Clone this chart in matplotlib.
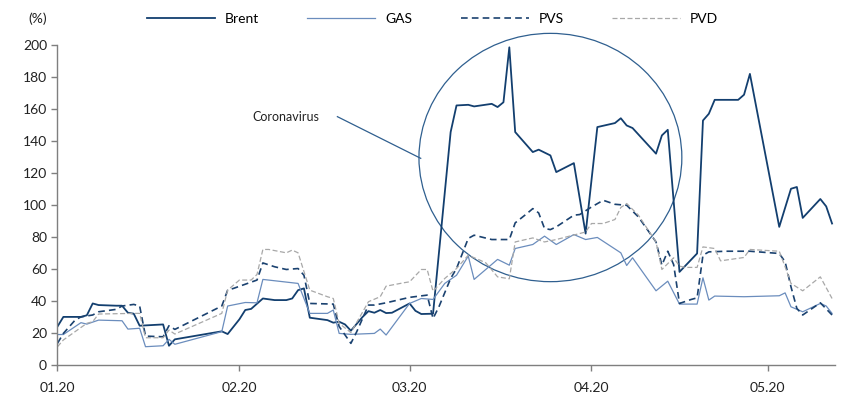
import numpy as np
import matplotlib
matplotlib.use("Agg")
import matplotlib.pyplot as plt
import matplotlib.dates as mdates
from matplotlib.patches import Ellipse

plt.rcParams['font.family'] = ['Lato', 'DejaVu Sans']

# days counted from 1 Jan 2020, volatility in %
brent_day = [0, 1, 4, 5, 6, 7, 10, 11, 12, 13, 14, 18, 19, 20, 28, 29, 31, 32, 33, 35,
             37, 39, 40, 41, 42, 43, 46, 47, 48, 49, 50, 52, 53, 54, 55, 56, 57, 60, 61, 62,
             64, 67, 68, 70, 71, 74, 75, 76, 77, 78, 81, 82, 84, 85, 88, 90, 92, 95, 96, 97,
             98, 102, 103, 104, 106, 109, 110, 111, 112, 116, 117, 118, 123, 125, 126, 127,
             130, 131, 132]
brent = [24, 30, 30, 31, 38.4, 37.4, 37, 37, 32.6, 32, 24.5, 25.3, 12, 16, 21, 19.3, 28.5, 34.3, 35, 41.5,
         40.5, 40.5, 41.5, 46.7, 47.8, 29.5, 28, 26.4, 27, 25.3, 21.4, 30, 33.6, 32.6, 34.3, 32.4, 32.6, 38.4, 33.8, 31.8,
         32, 145.4, 162, 162.4, 161.4, 163, 161, 164, 198.3, 145.4, 132.9, 134.4, 130.8, 120.4, 126, 82, 148.5, 151, 154, 149.5,
         147.9, 131.9, 143.3, 146.8, 58.1, 69.6, 152.6, 156.8, 165.5, 165.5, 168.7, 181.7, 86.2, 110, 111.1, 91.8,
         103.6, 99, 88.3]

gas_day = [0, 1, 4, 5, 7, 11, 12, 14, 15, 18, 19, 20, 28, 29, 32, 34, 35, 41, 43, 46,
           47, 48, 50, 54, 55, 56, 60, 62, 64, 66, 68, 70, 71, 75, 77, 78, 81, 83, 85, 88,
           90, 92, 96, 97, 98, 102, 104, 106, 109, 110, 111, 112, 117, 123, 124, 125, 127, 130, 131, 132]
gas = [19, 19, 26.4, 25.5, 28, 27.6, 22.4, 22.9, 11.4, 12, 16, 12.9, 20.8, 36.8, 39, 38.8, 53.4, 50.9, 32.2, 32.2,
       34.3, 19.7, 19.1, 19.7, 22.4, 18.7, 38.4, 41.5, 40.9, 50.9, 56, 68, 53.4, 65.9, 62.3, 72.7, 75.2, 80.4, 75.2, 81.4,
       78.3, 79.6, 70, 62.1, 66.9, 46.3, 52.3, 38, 38, 54.4, 40.5, 43, 42.6, 43.2, 45, 36.3, 33.2, 38.4, 36.8, 32.2]

pvs_day = [0, 1, 3, 4, 6, 7, 10, 11, 13, 14, 15, 18, 19, 20, 28, 29, 30, 34, 35, 37,
           39, 41, 42, 43, 47, 48, 50, 51, 53, 54, 56, 60, 63, 64, 65, 67, 68, 70, 71, 74,
           77, 78, 80, 81, 82, 83, 84, 85, 88, 89, 91, 93, 95, 97, 99, 102, 103, 104, 105, 106,
           108, 109, 110, 111, 114, 118, 123, 124, 125, 126, 127, 130, 132]
pvs = [13.5, 19.7, 28, 30, 31.2, 33.2, 34.7, 36.8, 37.8, 36.8, 18, 17.6, 24.5, 22.2, 36.8, 46.7, 47.8, 53, 63.7, 61.3,
       59.6, 60.2, 56, 38.4, 38, 24, 13.5, 20.8, 37.4, 37.4, 38.8, 42.2, 43.6, 29, 36.3, 54, 60.2, 79, 81, 78.3,
       78.3, 88.7, 94.5, 97.6, 94.9, 85.2, 84.5, 86.2, 93.5, 93.9, 98.6, 102.8, 100.3, 99.7, 92.4, 76.8, 62.3, 71, 62.7, 38.4,
       40.9, 41.9, 68.5, 70.6, 71, 71, 69.6, 64.4, 48.8, 35.3, 31.2, 38.8, 31.2]

pvd_day = [0, 1, 5, 6, 7, 13, 14, 15, 18, 19, 20, 28, 29, 31, 33, 34, 35, 36, 39, 40,
           41, 43, 46, 47, 48, 50, 53, 55, 56, 59, 60, 62, 63, 64, 66, 68, 70, 72, 73, 75,
           77, 78, 81, 83, 85, 90, 91, 93, 95, 96, 97, 99, 102, 103, 105, 106, 107, 109, 110, 112,
           113, 117, 118, 123, 124, 125, 127, 130, 132]
pvd = [11.4, 15.6, 26, 27, 31.8, 32.2, 32.2, 17, 17, 21.8, 19.3, 32.2, 46.7, 53, 53, 56.5, 72.1, 72.1, 70, 71.7,
       70, 46.7, 42.6, 41.5, 26, 20.2, 39.5, 42.6, 49.2, 51.3, 51.9, 59.6, 59.6, 46, 54, 60.2, 68.5, 65.4, 63.7, 55,
       53.8, 76.8, 79.3, 76.8, 78.3, 83, 88.3, 88.3, 90.8, 98.3, 100.8, 93.5, 76.8, 59.6, 66.9, 61.7, 60.9, 60.9, 73.7, 72.7,
       65, 67.1, 72.1, 71, 61.3, 50.9, 46.3, 55, 41.5]

start = np.datetime64('2020-01-01')


def to_dates(days):
    return start + np.array(days, dtype='timedelta64[D]')


def day_num(d):
    return mdates.date2num(start) + d


fig = plt.figure(figsize=(8.43, 3.98), dpi=100)
ax = fig.add_axes([0.0682, 0.083, 0.9223, 0.805])

ax.plot(to_dates(brent_day), brent, color='#133f6f', lw=1.3, label='Brent')
ax.plot(to_dates(gas_day), gas, color='#6b8dbd', lw=0.9, label='GAS')
ax.plot(to_dates(pvs_day), pvs, color='#1b4270', lw=1.2, dashes=(4, 2.5), label='PVS')
ax.plot(to_dates(pvd_day), pvd, color='#a8a8a8', lw=0.9, dashes=(4, 2), label='PVD')

# highlight around the March spike
ax.add_patch(Ellipse((day_num(84), 129.5), width=44.8, height=155,
                     fill=False, edgecolor='#2f5f8f', lw=0.9, clip_on=False))
ax.plot([day_num(47.7), day_num(61.9)], [155, 129], color='#2f5f8f', lw=0.9)
ax.text(day_num(44.6), 155, 'Coronavirus', fontsize=9, color='#222222',
        ha='right', va='center')

ax.set_ylim(0, 200)
ax.set_yticks(range(0, 201, 20))
ax.set_xlim(start, start + np.timedelta64(132, 'D') + np.timedelta64(12, 'h'))
ax.xaxis.set_major_locator(mdates.MonthLocator())
ax.xaxis.set_major_formatter(mdates.DateFormatter('%m.%y'))

for side in ['top', 'right']:
    ax.spines[side].set_visible(False)
for side in ['left', 'bottom']:
    ax.spines[side].set_color('#7f7f7f')
    ax.spines[side].set_linewidth(1)
ax.tick_params(axis='both', direction='out', length=4, color='#7f7f7f',
               labelsize=10, labelcolor='#222222', width=1)
ax.tick_params(axis='x', pad=8)

fig.text(0.045, 0.952, '(%)', fontsize=10, color='#222222', ha='center', va='center')

fig.legend(loc='center', bbox_to_anchor=(0.513, 0.952), ncol=4, frameon=False,
           fontsize=10, handlelength=4.9, handletextpad=0.7, columnspacing=3.5)

fig.savefig('out.png', dpi=100)
